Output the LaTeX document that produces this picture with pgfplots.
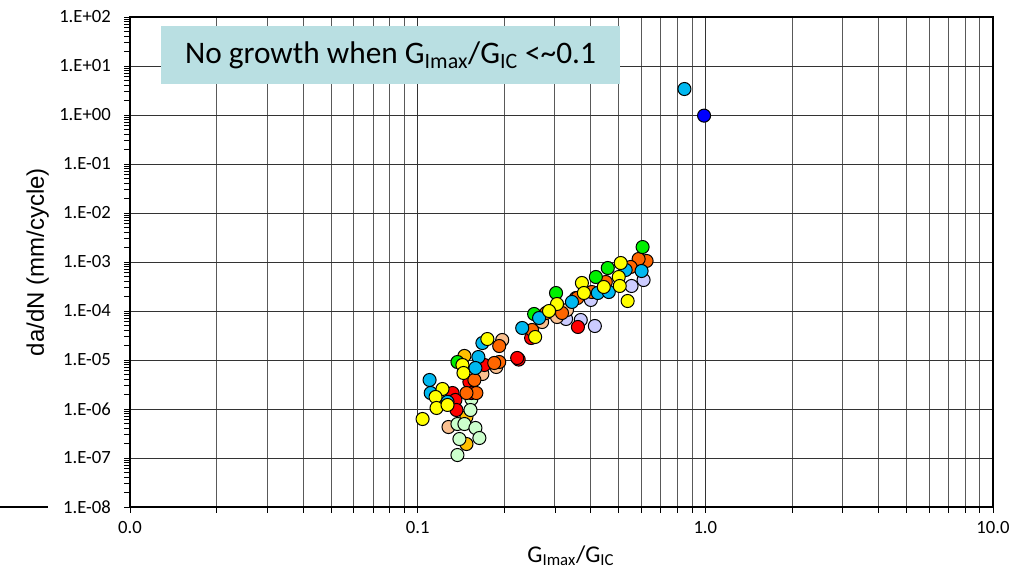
\documentclass[border=0pt]{standalone}
\usepackage{pgfplots}
\pgfplotsset{compat=1.18}
\usepackage{fontspec}
\setmainfont{Carlito}
\newfontfamily\arialfont{Liberation Sans}
\definecolor{cCyan}{HTML}{00B8F0}
\definecolor{cBlue}{HTML}{0000FF}
\definecolor{cOrange}{HTML}{FF6600}
\definecolor{cRed}{HTML}{FF0000}
\definecolor{cYellow}{HTML}{FFFF00}
\definecolor{cGreen}{HTML}{00F000}
\definecolor{cPeach}{HTML}{FAC090}
\definecolor{cLilac}{HTML}{CCCCFF}
\definecolor{cLGreen}{HTML}{CCFFCC}
\definecolor{cGold}{HTML}{FFC000}
\definecolor{boxc}{HTML}{B9DFE2}
\begin{document}
\begin{tikzpicture}
\useasboundingbox (0,0) rectangle (756.75pt,427.5pt);
\begin{axis}[
  at={(97.5pt,47.25pt)}, anchor=south west,
  scale only axis, width=647.25pt, height=367.5pt,
  xmode=log, ymode=log,
  xmin=0.01, xmax=10, ymin=1e-8, ymax=100,
  xtick={0.01,0.1,1,10}, xticklabels={0.0,0.1,1.0,10.0},
  ytick={1e-8,1e-7,1e-6,1e-5,1e-4,1e-3,1e-2,1e-1,1,10,100},
  yticklabels={1.E-08,1.E-07,1.E-06,1.E-05,1.E-04,1.E-03,1.E-02,1.E-01,1.E+00,1.E+01,1.E+02},
  tick pos=left, tick align=outside,
  major tick length=4.5pt, minor tick length=4.5pt,
  tick style={black, line width=0.6pt},
  xmajorgrids, xminorgrids, ymajorgrids,
  major grid style={black!80, line width=0.65pt},
  minor grid style={black!65, line width=0.65pt},
  axis line style={black, line width=0.8pt},
  ticklabel style={font=\fontsize{14}{16}\selectfont},
  yticklabel style={anchor=east, inner sep=0pt, xshift=-9.75pt},
  xticklabel style={anchor=north, inner sep=0pt, yshift=-6pt},
  xlabel={G\textsubscript{Imax}/G\textsubscript{IC}},
  xlabel style={at={(axis description cs:0.5,0)}, anchor=base, yshift=-41.25pt, xshift=7pt, font=\fontsize{18}{21}\selectfont},
  ylabel={da/dN (mm/cycle)},
  ylabel style={at={(axis description cs:-0.107,0.5)}, anchor=center, font=\arialfont\fontsize{18}{21}\selectfont},
  every axis plot/.append style={only marks, mark=*, mark size=4.9pt, draw=black, line width=0.75pt},
  clip=false,
]
% light purple
\addplot[fill=cLilac] coordinates {(0.610,4.29e-4) (0.554,3.24e-4) (0.400,1.68e-4) (0.328,6.87e-5) (0.369,6.55e-5) (0.413,4.94e-5)};
% peach
\addplot[fill=cPeach] coordinates {(0.1968,2.56e-5) (0.1876,7.2e-6) (0.1679,5.18e-6) (0.1280,4.29e-7) (0.3550,1.84e-4) (0.3305,1.05e-4) (0.2707,5.96e-5) (0.3051,7.54e-5)};
% gold
\addplot[fill=cGold] coordinates {(0.1454,1.21e-5) (0.1478,1.93e-7) (0.1478,6.9e-7)};
% light green
\addplot[fill=cLGreen] coordinates {(0.1375,4.94e-7) (0.1454,4.94e-7) (0.1538,1.60e-6) (0.1526,9.54e-7) (0.1588,4.10e-7) (0.1639,2.56e-7) (0.1397,2.44e-7) (0.1375,1.15e-7)};
% red
\addplot[fill=cRed] coordinates {(0.2245,1.02e-5) (0.2218,1.10e-5) (0.3607,4.72e-5) (0.2480,2.81e-5) (0.1705,7.91e-6) (0.1513,3.56e-6) (0.1538,2.12e-6) (0.1322,2.12e-6) (0.1353,1.53e-6) (0.1364,9.54e-7)};
% orange
\addplot[fill=cOrange] coordinates {(0.6248,1.05e-3) (0.5863,1.15e-3) (0.5500,7.91e-4) (0.4508,3.91e-4) (0.4032,2.44e-4) (0.2795,9.1e-5) (0.3175,9.1e-5) (0.2498,4.10e-5) (0.3590,1.84e-4) (0.1921,1.93e-5) (0.1921,9.1e-6) (0.1846,8.69e-6) (0.1575,3.91e-6) (0.1600,2.12e-6) (0.1478,2.12e-6)};
% green
\addplot[fill=cGreen] coordinates {(0.6052,2.02e-3) (0.4580,7.54e-4) (0.4163,4.94e-4) (0.3027,2.33e-4) (0.2540,8.69e-5) (0.1375,9.1e-6)};
% cyan
\addplot[fill=cCyan] coordinates {(0.8459,3.39) (0.110,3.91e-6) (0.111,2.12e-6) (0.127,1.4e-6) (0.1626,1.15e-5) (0.1588,6.87e-6) (0.1679,2.22e-5) (0.2309,4.50e-5) (0.2643,7.20e-5) (0.3438,1.53e-4) (0.4230,2.33e-4) (0.4617,2.44e-4) (0.5284,6.87e-4) (0.6003,6.55e-4)};
% yellow
\addplot[fill=cYellow] coordinates {(0.5080,9.54e-4) (0.5000,4.94e-4) (0.5040,3.24e-4) (0.5370,1.60e-4) (0.4436,3.09e-4) (0.3724,3.73e-4) (0.3784,2.33e-4) (0.3051,1.39e-4) (0.2862,1.0e-4) (0.2561,2.95e-5) (0.1747,2.68e-5) (0.1431,7.91e-6) (0.1443,5.43e-6) (0.1220,2.56e-6) (0.1154,1.76e-6) (0.1163,1.05e-6) (0.1270,1.21e-6) (0.1040,6.25e-7)};
% blue
\addplot[fill=cBlue] coordinates {(0.99,0.97)};
\end{axis}
\begin{scope}[x=0.75pt,y=0.75pt]
\draw[line width=1.5pt] (0,63) -- (48,63);
\node[fill=boxc, minimum width=344.25pt, minimum height=43.5pt, inner sep=0pt,
      font=\fontsize{23.5}{28}\selectfont] at (390.5,515)
      {No growth when G\textsubscript{Imax}/G\textsubscript{IC} <\textasciitilde0.1};
\end{scope}
\end{tikzpicture}
\end{document}
